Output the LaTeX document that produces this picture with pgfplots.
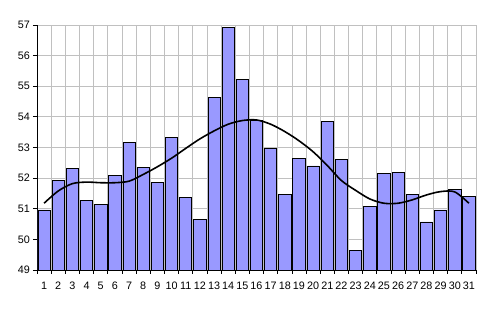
\documentclass[border=0pt]{standalone}
\usepackage{pgfplots}
\pgfplotsset{compat=1.18}
\usepackage{fontspec}
\setmainfont{Liberation Sans}
\definecolor{barfill}{HTML}{9999FF}
\definecolor{gridc}{HTML}{C0C0C0}
\begin{document}
\begin{tikzpicture}
\useasboundingbox (-37pt,-42pt) rectangle (454pt,270pt);
\begin{axis}[
  scale only axis, width=439pt, height=245pt,
  xmin=0.5, xmax=31.5, ymin=49, ymax=57,
  axis lines*=left,
  axis line style={black, line width=0.8pt},
  xtick={1,...,31}, major x tick style={draw=none},
  minor xtick={0.5,1.5,...,31.5},
  xminorgrids, ymajorgrids,
  minor x grid style={gridc, line width=0.8pt},
  major y grid style={gridc, line width=0.8pt},
  minor tick length=4pt, major tick length=4pt,
  tick align=outside,
  ytick={49,...,57},
  y tick style={black, line width=0.8pt},
  minor x tick style={black, line width=0.8pt},
  tick label style={font=\fontsize{10.8}{12}\selectfont},
  /pgf/number format/assume math mode=true,
  xticklabel style={inner sep=0pt, yshift=-8pt},
  yticklabel style={inner sep=1pt, xshift=-2pt},
  clip=false,
]
\addplot[ybar, bar width=12.3pt, fill=barfill, draw=black, line width=0.7pt, bar shift=0pt] coordinates {
(1,50.96) (2,51.93) (3,52.32) (4,51.27) (5,51.14) (6,52.10) (7,53.17) (8,52.36)
(9,51.86) (10,53.34) (11,51.37) (12,50.66) (13,54.64) (14,56.92) (15,55.23)
(16,53.88) (17,52.98) (18,51.48) (19,52.65) (20,52.40) (21,53.85) (22,52.61)
(23,49.65) (24,51.08) (25,52.16) (26,52.19) (27,51.48) (28,50.57) (29,50.96)
(30,51.64) (31,51.41)};
\addplot[smooth, black, line width=1.6pt] coordinates {
(1,51.18) (2,51.58) (3,51.82) (4,51.87) (5,51.85) (6,51.85) (7,51.90) (8,52.12)
(9,52.37) (10,52.65) (11,52.97) (12,53.28) (13,53.54) (14,53.76) (15,53.88)
(16,53.90) (17,53.76) (18,53.52) (19,53.22) (20,52.86) (21,52.41) (22,51.92)
(23,51.60) (24,51.32) (25,51.18) (26,51.18) (27,51.29) (28,51.45) (29,51.56)
(30,51.55) (31,51.18)};
\end{axis}
\end{tikzpicture}
\end{document}
